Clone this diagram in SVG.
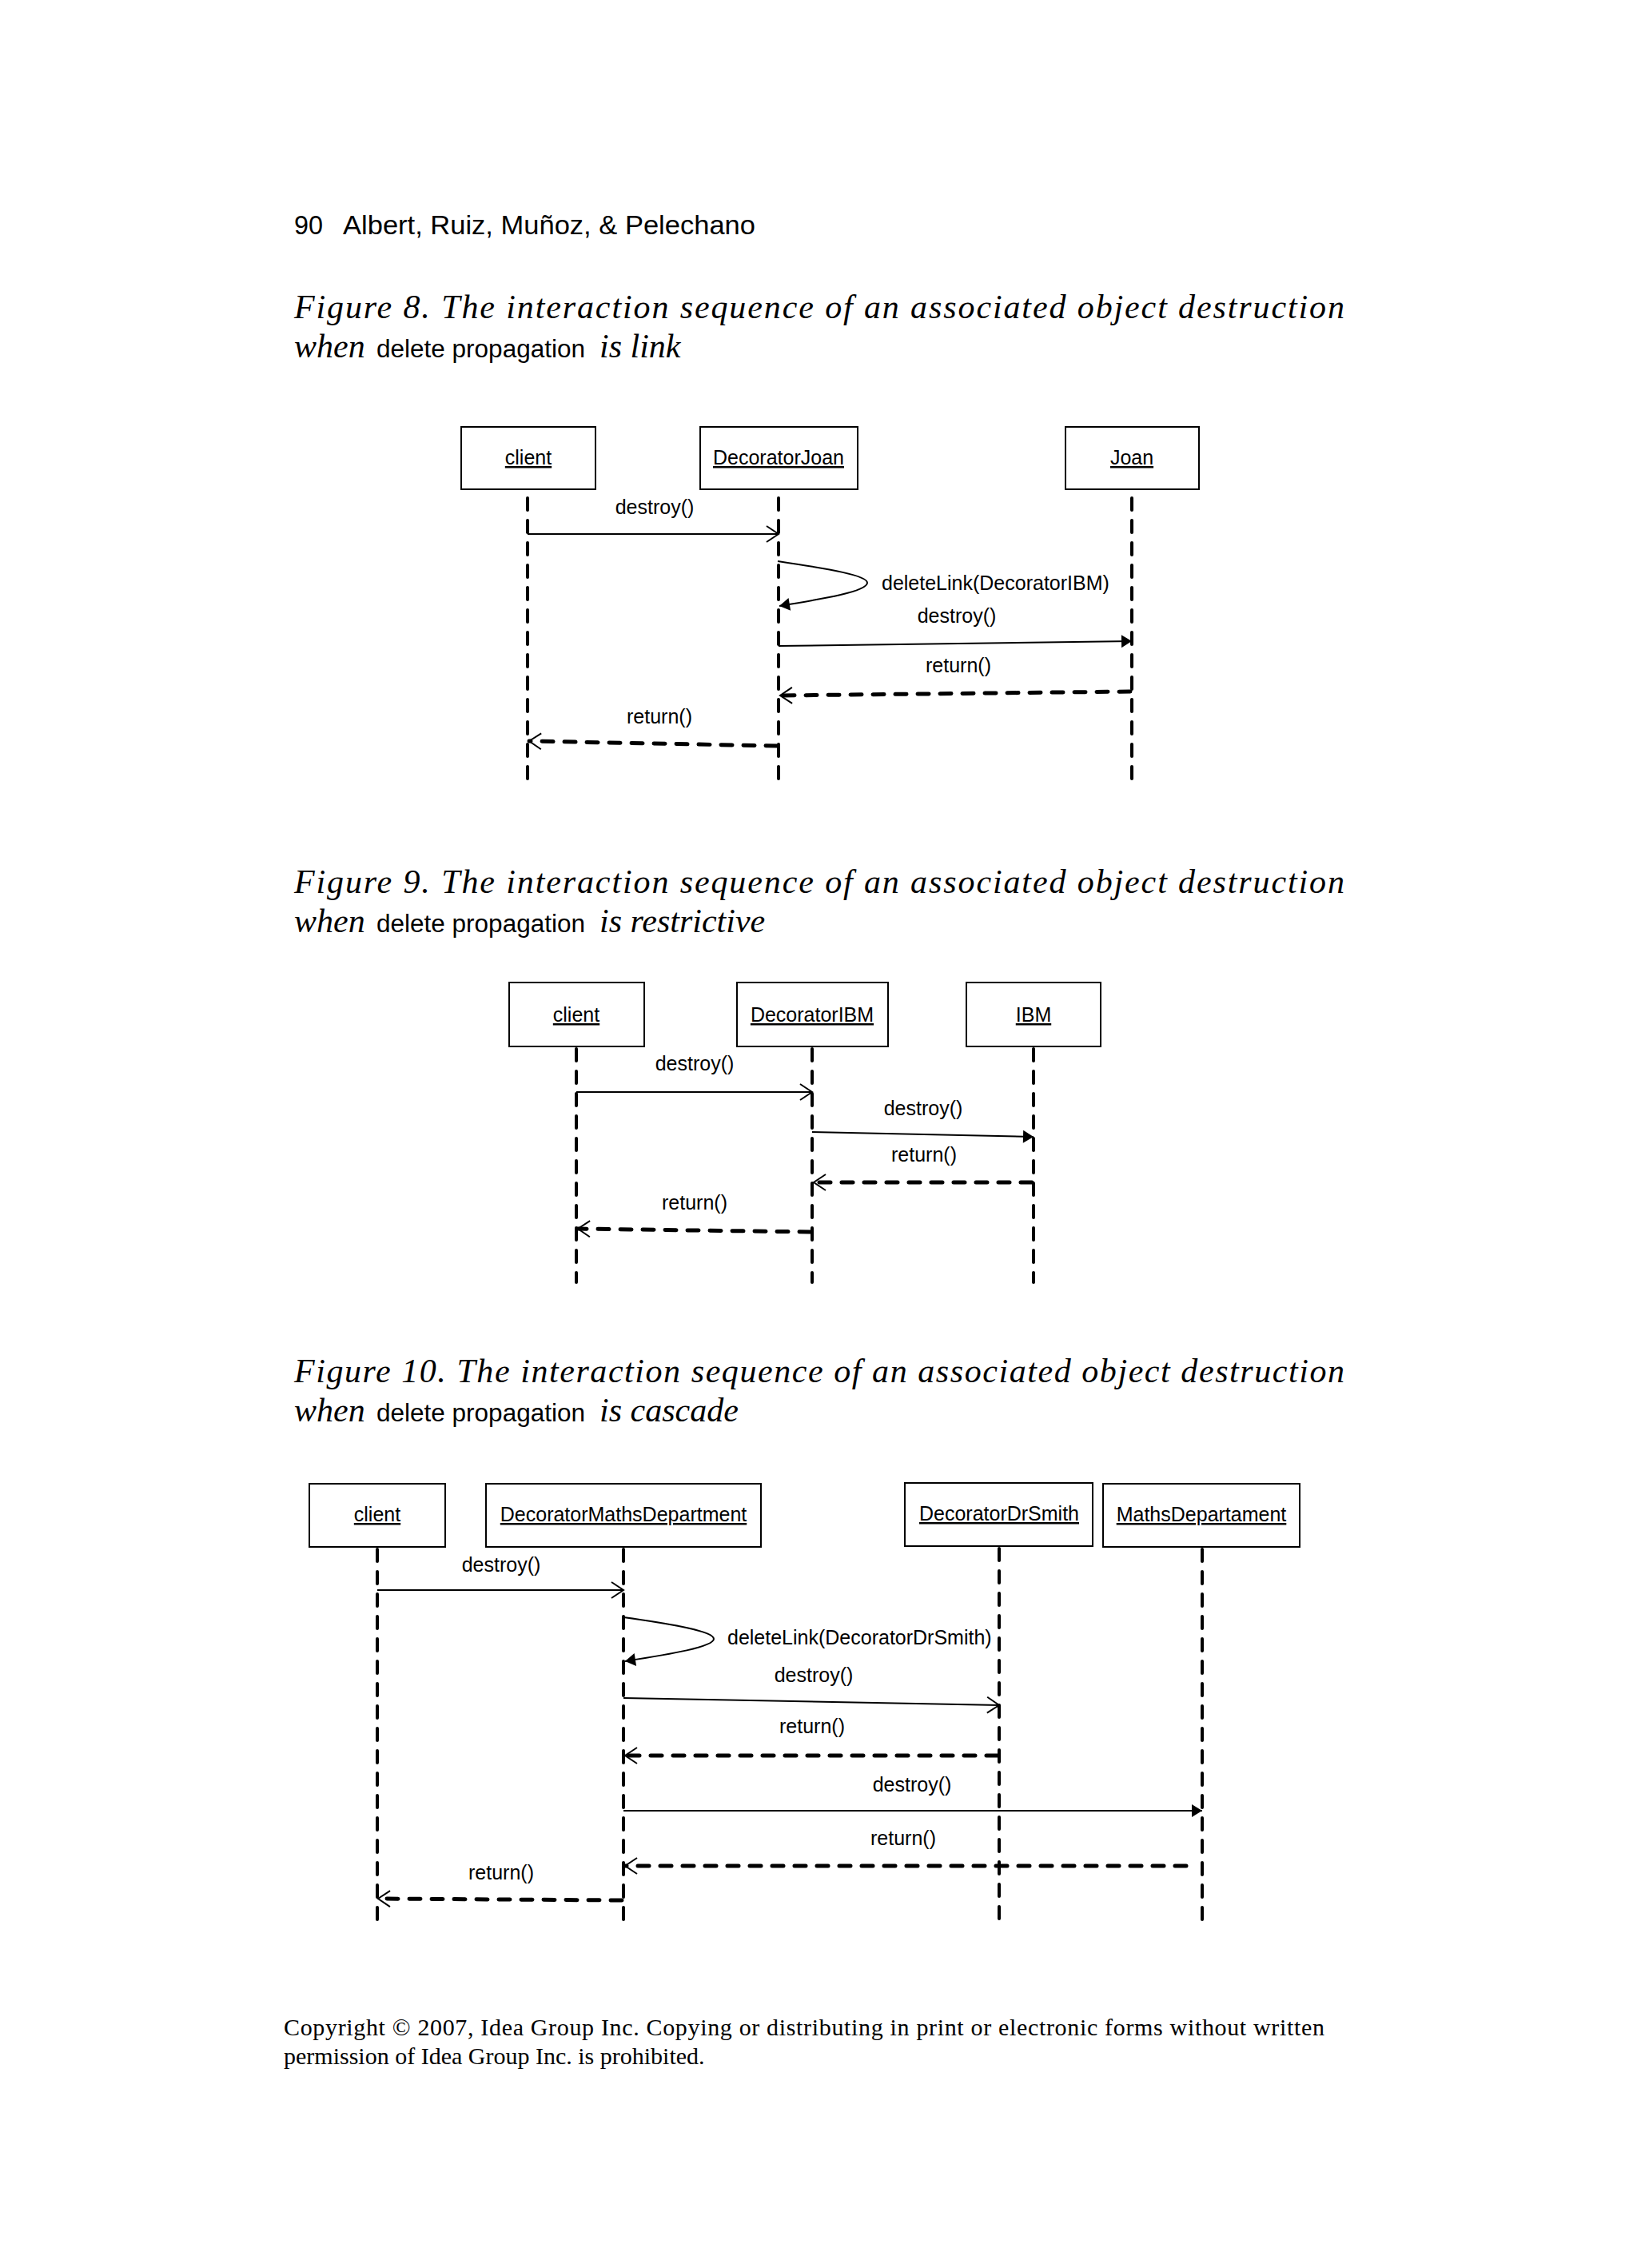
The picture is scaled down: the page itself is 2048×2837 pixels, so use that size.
<svg xmlns="http://www.w3.org/2000/svg" width="2048" height="2837" viewBox="0 0 2048 2837">
<defs>
<style>
.hdr{font-family:"Liberation Sans",Arial,sans-serif;font-size:34px;fill:#000}
.cap{font-family:"Liberation Serif","Times New Roman",serif;font-style:italic;font-size:42px;fill:#000}
.caps{font-family:"Liberation Sans",Arial,sans-serif;font-size:31px;fill:#000}
.lbl{font-family:"Liberation Sans",Arial,sans-serif;font-size:25px;fill:#000;text-anchor:middle}
.lbls{font-family:"Liberation Sans",Arial,sans-serif;font-size:25px;fill:#000}
.obj{font-family:"Liberation Sans",Arial,sans-serif;font-size:25px;fill:#000;text-anchor:middle;text-decoration:underline}
.box{fill:#fff;stroke:#000;stroke-width:2}
.life{stroke:#000;stroke-width:4;stroke-dasharray:15 13;stroke-linecap:round;fill:none}
.msg{stroke:#000;stroke-width:2;fill:none}
.ret{stroke:#000;stroke-width:5;stroke-dasharray:14 14;stroke-linecap:round;fill:none}
.foot{font-family:"Liberation Serif","Times New Roman",serif;font-size:30px;fill:#000}
</style>
<marker id="open" markerUnits="userSpaceOnUse" markerWidth="24" markerHeight="26" refX="15" refY="10" orient="auto" overflow="visible">
<path d="M0,0 L15,10 L0,20" fill="none" stroke="#000" stroke-width="2"/>
</marker>
<marker id="filled" markerUnits="userSpaceOnUse" markerWidth="16" markerHeight="18" refX="13" refY="8" orient="auto" overflow="visible">
<path d="M0,0 L13,8 L0,16 Z" fill="#000"/>
</marker>
</defs>
<rect x="0" y="0" width="2048" height="2837" fill="#fff"/>

<g id="header">
<text class="hdr" x="368" y="293" textLength="36" lengthAdjust="spacingAndGlyphs">90</text>
<text class="hdr" x="429" y="293" textLength="516" lengthAdjust="spacingAndGlyphs">Albert, Ruiz, Muñoz, &amp; Pelechano</text>
</g>

<!-- Figure 8 -->
<g id="caption8">
<text class="cap" x="368" y="398" textLength="1314" lengthAdjust="spacing">Figure 8. The interaction sequence of an associated object destruction</text>
<text class="cap" x="368" y="447">when</text>
<text class="caps" x="471" y="447" textLength="261" lengthAdjust="spacingAndGlyphs">delete propagation</text>
<text class="cap" x="750" y="447">is link</text>
</g>
<g id="fig8-client">
<rect class="box" x="577" y="534" width="168" height="78"/>
<text class="obj" x="661" y="581">client</text>
</g>
<g id="fig8-decoratorjoan">
<rect class="box" x="876" y="534" width="197" height="78"/>
<text class="obj" x="974" y="581">DecoratorJoan</text>
</g>
<g id="fig8-joan">
<rect class="box" x="1333" y="534" width="167" height="78"/>
<text class="obj" x="1416" y="581">Joan</text>
</g>
<g id="fig8-connectors">
<line class="life" x1="660" y1="623" x2="660" y2="976"/>
<line class="life" x1="974" y1="623" x2="974" y2="976"/>
<line class="life" x1="1416" y1="623" x2="1416" y2="976"/>
<line class="msg" x1="660" y1="668" x2="974" y2="668" marker-end="url(#open)"/>
<path class="msg" d="M973,702 C1040,712 1085,720 1085,729 C1085,740 1030,749 975,758" marker-end="url(#filled)"/>
<line class="msg" x1="974" y1="808" x2="1416" y2="802" marker-end="url(#filled)"/>
<line class="ret" x1="1414" y1="865" x2="976" y2="870" marker-end="url(#open)"/>
<line class="ret" x1="972" y1="933" x2="662" y2="927" marker-end="url(#open)"/>
<text class="lbl" x="819" y="643">destroy()</text>
<text class="lbls" x="1103" y="738">deleteLink(DecoratorIBM)</text>
<text class="lbl" x="1197" y="779">destroy()</text>
<text class="lbl" x="1199" y="841">return()</text>
<text class="lbl" x="825" y="905">return()</text>
</g>

<!-- Figure 9 -->
<g id="caption9">
<text class="cap" x="368" y="1117" textLength="1314" lengthAdjust="spacing">Figure 9. The interaction sequence of an associated object destruction</text>
<text class="cap" x="368" y="1166">when</text>
<text class="caps" x="471" y="1166" textLength="261" lengthAdjust="spacingAndGlyphs">delete propagation</text>
<text class="cap" x="750" y="1166">is restrictive</text>
</g>
<g id="fig9-client">
<rect class="box" x="637" y="1229" width="169" height="80"/>
<text class="obj" x="721" y="1278">client</text>
</g>
<g id="fig9-decoratoribm">
<rect class="box" x="922" y="1229" width="189" height="80"/>
<text class="obj" x="1016" y="1278">DecoratorIBM</text>
</g>
<g id="fig9-ibm">
<rect class="box" x="1209" y="1229" width="168" height="80"/>
<text class="obj" x="1293" y="1278">IBM</text>
</g>
<g id="fig9-connectors">
<line class="life" x1="721" y1="1312" x2="721" y2="1604"/>
<line class="life" x1="1016" y1="1312" x2="1016" y2="1604"/>
<line class="life" x1="1293" y1="1312" x2="1293" y2="1604"/>
<line class="msg" x1="721" y1="1366" x2="1016" y2="1366" marker-end="url(#open)"/>
<line class="msg" x1="1016" y1="1416" x2="1293" y2="1422" marker-end="url(#filled)"/>
<line class="ret" x1="1291" y1="1479" x2="1018" y2="1479" marker-end="url(#open)"/>
<line class="ret" x1="1014" y1="1541" x2="723" y2="1537" marker-end="url(#open)"/>
<text class="lbl" x="869" y="1339">destroy()</text>
<text class="lbl" x="1155" y="1395">destroy()</text>
<text class="lbl" x="1156" y="1453">return()</text>
<text class="lbl" x="869" y="1513">return()</text>
</g>

<!-- Figure 10 -->
<g id="caption10">
<text class="cap" x="368" y="1729" textLength="1314" lengthAdjust="spacing">Figure 10. The interaction sequence of an associated object destruction</text>
<text class="cap" x="368" y="1778">when</text>
<text class="caps" x="471" y="1778" textLength="261" lengthAdjust="spacingAndGlyphs">delete propagation</text>
<text class="cap" x="750" y="1778">is cascade</text>
</g>
<g id="fig10-client">
<rect class="box" x="387" y="1856" width="170" height="79"/>
<text class="obj" x="472" y="1903">client</text>
</g>
<g id="fig10-decoratormathsdepartment">
<rect class="box" x="608" y="1856" width="344" height="79"/>
<text class="obj" x="780" y="1903">DecoratorMathsDepartment</text>
</g>
<g id="fig10-decoratordrsmith">
<rect class="box" x="1132" y="1855" width="235" height="79"/>
<text class="obj" x="1250" y="1902">DecoratorDrSmith</text>
</g>
<g id="fig10-mathsdepartament">
<rect class="box" x="1380" y="1856" width="246" height="79"/>
<text class="obj" x="1503" y="1903">MathsDepartament</text>
</g>
<g id="fig10-connectors">
<line class="life" x1="472" y1="1938" x2="472" y2="2410"/>
<line class="life" x1="780" y1="1938" x2="780" y2="2410"/>
<line class="life" x1="1250" y1="1937" x2="1250" y2="2410"/>
<line class="life" x1="1504" y1="1938" x2="1504" y2="2410"/>
<line class="msg" x1="472" y1="1989" x2="780" y2="1989" marker-end="url(#open)"/>
<path class="msg" d="M780,2023 C845,2032 893,2041 893,2050 C893,2060 840,2069 782,2078" marker-end="url(#filled)"/>
<line class="msg" x1="780" y1="2124" x2="1250" y2="2133" marker-end="url(#open)"/>
<line class="ret" x1="1248" y1="2196" x2="782" y2="2196" marker-end="url(#open)"/>
<line class="msg" x1="780" y1="2265" x2="1504" y2="2265" marker-end="url(#filled)"/>
<line class="ret" x1="1484" y1="2334" x2="782" y2="2334" marker-end="url(#open)"/>
<line class="ret" x1="778" y1="2377" x2="473" y2="2375" marker-end="url(#open)"/>
<text class="lbl" x="627" y="1966">destroy()</text>
<text class="lbls" x="910" y="2057">deleteLink(DecoratorDrSmith)</text>
<text class="lbl" x="1018" y="2104">destroy()</text>
<text class="lbl" x="1016" y="2168">return()</text>
<text class="lbl" x="1141" y="2241">destroy()</text>
<text class="lbl" x="1130" y="2308">return()</text>
<text class="lbl" x="627" y="2351">return()</text>
</g>

<g id="footer">
<text class="foot" x="355" y="2546" textLength="1302" lengthAdjust="spacing">Copyright © 2007, Idea Group Inc. Copying or distributing in print or electronic forms without written</text>
<text class="foot" x="355" y="2582">permission of Idea Group Inc. is prohibited.</text>
</g>
</svg>
